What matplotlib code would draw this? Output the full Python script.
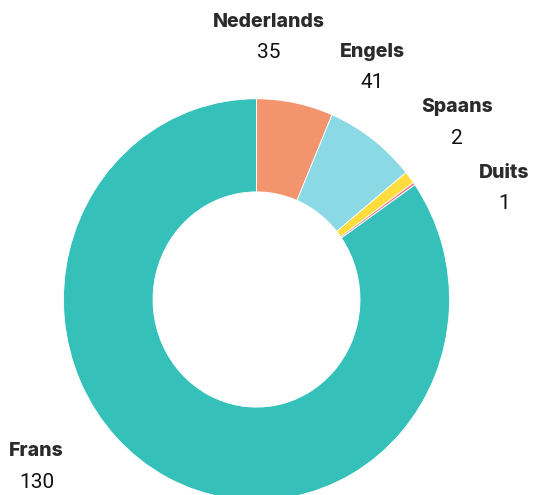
"""Donut chart of languages (Nederlands, Engels, Spaans, Duits, Frans)"""

import matplotlib
matplotlib.use('Agg')
import matplotlib.pyplot as plt

#data
languages = ['Nederlands', 'Engels', 'Spaans', 'Duits', 'Frans']
counts = ['35', '41', '2', '1', '130']
#share of the ring (percent) as drawn in the picture
shares = [6.4, 7.7, 1.0, 0.22, 84.68]
colors = ['#F2956E', '#8BD9E4', '#FFDD3C', '#F07C8E', '#35C1B9']

#label offsets from the centre, in pixels
label_offsets = [(12.5, 262), (116, 232), (200.5, 176.5), (247.5, 111.5), (-220, -167)]

W, H = 535, 495
cx, cy = 256.5, 299.5   #centre of the ring in pixels (from top-left)
stretch = 1.04          #the ring is a bit taller than wide

fig = plt.figure(figsize=(W / 100, H / 100), dpi=100)
ax = fig.add_axes([0, 0, 1, 1])
ax.axis('off')

ax.pie(shares, colors=colors, radius=193, startangle=90, counterclock=False,
       center=(0, 0), frame=False,
       wedgeprops=dict(width=193 - 103.5, edgecolor='white', linewidth=0.6))
ax.set_xlim(-cx, W - cx)
ax.set_ylim(-(H - cy) / stretch, cy / stretch)
ax.set_aspect('auto')

#labels: bold name above, count below
for name, n, (dx, dy) in zip(languages, counts, label_offsets):
    ax.annotate(name, xy=(0, 0), xytext=(dx, dy + 15.5), textcoords='offset pixels',
                ha='center', va='center', fontsize=14, fontweight='heavy',
                family='Inter', color='#2b2b2b')
    ax.annotate(n, xy=(0, 0), xytext=(dx, dy - 15.5), textcoords='offset pixels',
                ha='center', va='center', fontsize=15, family='Roboto',
                color='#111111')

fig.savefig('out.png', dpi=100)
